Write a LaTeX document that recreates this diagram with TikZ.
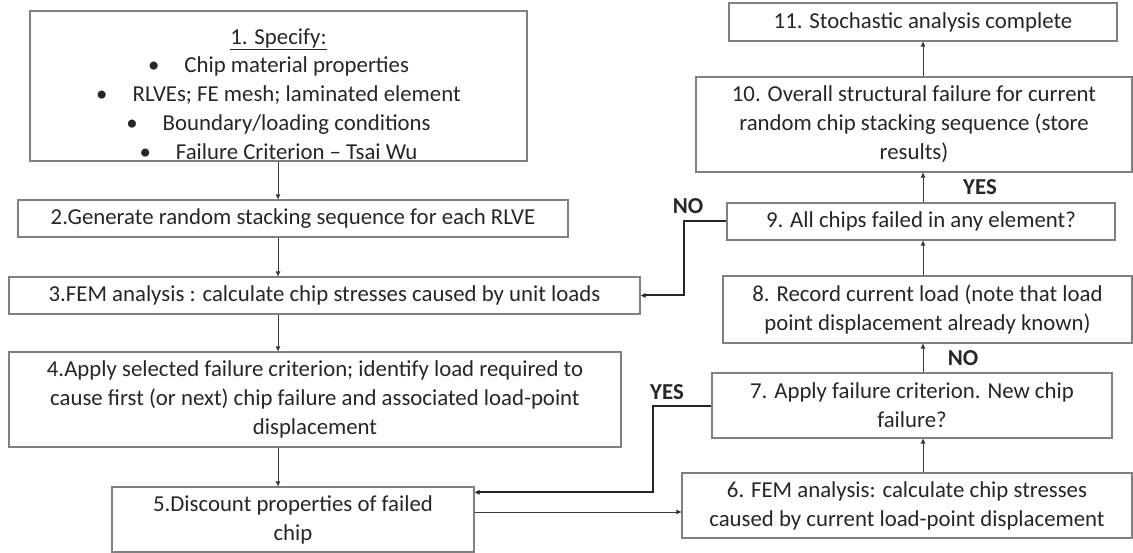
\documentclass[tikz,border=0pt]{standalone}
\usepackage{fontspec}
\setmainfont{Carlito}
\usepackage{tikz}
\usetikzlibrary{arrows.meta,positioning,calc}
\definecolor{ink}     {HTML}{262626}
\definecolor{boxgray} {HTML}{808080}
\definecolor{wire}    {HTML}{3A3A3A}
\newcommand{\itm}{\textbullet\hspace{1.1em}}

\begin{document}
\begin{tikzpicture}[x=1pt,y=-1pt,font=\fontsize{22.8}{29}\selectfont,
    stage/.style 2 args={draw=boxgray,line width=1.3pt,text=ink,align=center,
      inner sep=0pt,minimum width=#1,minimum height=#2},
    flow/.style={draw=wire,line width=0.9pt,-{Triangle[length=5pt,width=4.5pt]}},
    back/.style={draw=black!85,line width=2pt,-{Triangle[length=5pt,width=4.5pt]}},
    tag/.style={font=\fontsize{22.8}{29}\selectfont\bfseries,text=black!85}]
  \useasboundingbox (0,0) rectangle (1133,553);

  % left column
  \node[stage={497pt}{150pt}] (s1) at (278.5,86) {};
  \node[text=ink,align=center,inner sep=0pt] (spec) at ($(s1.center)+(0,8)$) {\underline{1. Specify:}\\[-1pt]
    \itm Chip material properties\\
    \itm RLVEs; FE mesh; laminated element\\
    \itm Boundary/loading conditions\\
    \itm Failure Criterion -- Tsai Wu};
  \node[stage={550pt}{37pt}] (s2) at (293,218.5) {2.Generate random stacking sequence for each RLVE};
  \node[stage={631pt}{37pt}] (s3) at (324.5,295.5) {3.FEM analysis : calculate chip stresses caused by unit loads};
  \node[stage={612pt}{95pt}] (s4) at (315,399.5) {4.Apply selected failure criterion; identify load required to\\
    cause first (or next) chip failure and associated load-point\\ displacement};
  \node[stage={362pt}{65pt}] (s5) at (293,519.5) {5.Discount properties of failed\\ chip};

  % right column
  \node[stage={450pt}{65pt}] (s6) at (907,505.5) {6. FEM analysis: calculate chip stresses\\
    caused by current load-point displacement};
  \node[stage={400pt}{65pt}] (s7) at (912,405.5) {7. Apply failure criterion. New chip\\ failure?};
  \node[stage={409pt}{67pt}] (s8) at (927.5,309.5) {8. Record current load (note that load\\
    point displacement already known)};
  \node[stage={388pt}{37pt}] (s9) at (921,221.5) {9. All chips failed in any element?};
  \node[stage={436pt}{95pt}] (s10) at (914,124.5) {10. Overall structural failure for current\\
    random chip stacking sequence (store\\ results)};
  \node[stage={388pt}{38pt}] (s11) at (923,22) {11. Stochastic analysis complete};

  \coordinate (lcol) at (278,0);
  \coordinate (rcol) at (923,0);
  \coordinate (hand) at (0,512);

  \foreach \a/\b in {s1/s2,s2/s3,s3/s4,s4/s5} {
    \draw[flow] (\a.south -| lcol) -- (\b.north -| lcol);
  }
  \foreach \a/\b in {s6/s7,s7/s8,s8/s9,s9/s10,s10/s11} {
    \draw[flow] (\a.north -| rcol) -- (\b.south -| rcol);
  }
  \draw[flow] (s5.east |- hand) -- (s6.west |- hand);

  % loops back
  \draw[back] (s9.west) -- ++(-42,0) |- (s3.east);
  \draw[back] (s7.west) -- ++(-58,0) |- ($(s5.north east)+(0,6)$);

  \node[tag] (no1) at (688,206) {NO};
  \node[tag] (yes1) at (980,187) {YES};
  \node[tag] (no2) at (963,358) {NO};
  \node[tag] (yes2) at (667,392) {YES};
\end{tikzpicture}
\end{document}
